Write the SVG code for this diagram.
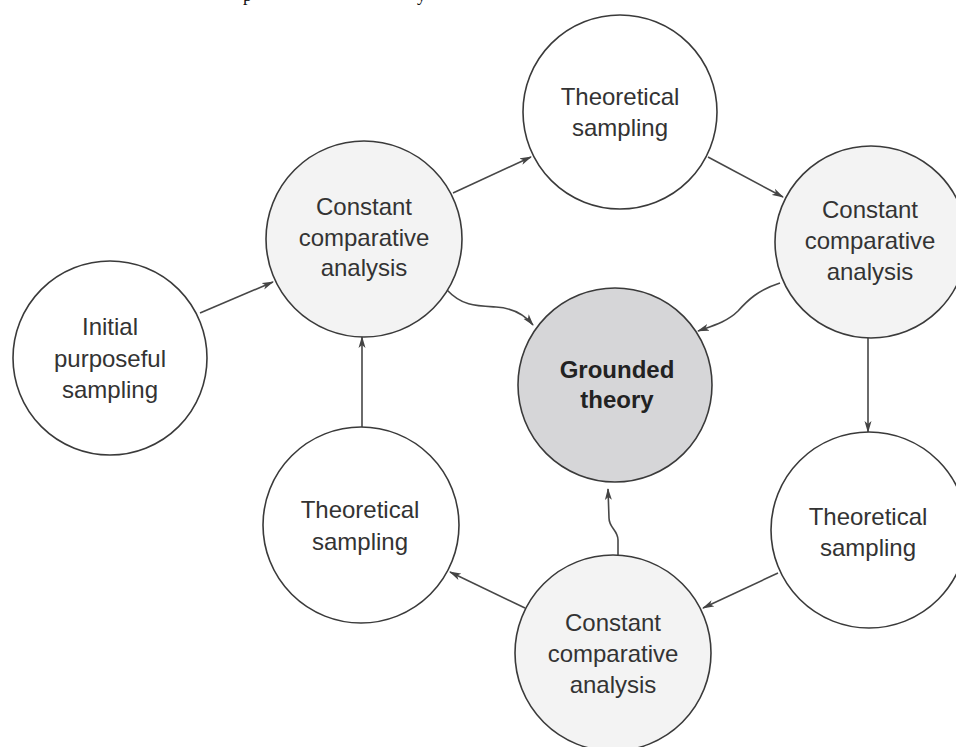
<svg xmlns="http://www.w3.org/2000/svg" width="956" height="747" viewBox="0 0 956 747">
  <defs>
    <marker id="arrow" viewBox="0 0 12 8" refX="11" refY="4" markerWidth="12" markerHeight="8" markerUnits="userSpaceOnUse" orient="auto">
      <path d="M0,0.5 L12,4 L0,7.5 L3,4 Z" fill="#444"/>
    </marker>
  </defs>
  <style>
    .node { stroke: #3a3a3a; stroke-width: 1.6; }
    .plain { fill: #ffffff; }
    .cca { fill: #f3f3f3; }
    .core { fill: #d6d6d8; }
    .label { font-family: "Liberation Sans", Arial, sans-serif; font-size: 24px; fill: #333; text-anchor: middle; }
    .bold { font-weight: bold; fill: #222; }
    .edge { fill: none; stroke: #474747; stroke-width: 1.6; marker-end: url(#arrow); }
    .runhead { font-family: "Liberation Serif", "Times New Roman", serif; font-size: 18px; fill: #111; }
  </style>

  <rect width="956" height="747" fill="#ffffff"/>

  <!-- descenders of the preceding text line, cut by the top edge -->
  <text class="runhead" x="243" y="0.5">p</text>
  <text class="runhead" x="417" y="0.5">y</text>

  <!-- connectors -->
  <g id="connectors">
    <path class="edge" d="M200,313 L273,282"/>
    <path class="edge" d="M453,193 L531,157"/>
    <path class="edge" d="M708,157 L783,197"/>
    <path class="edge" d="M868,338 L868,432"/>
    <path class="edge" d="M778,573 L703,608"/>
    <path class="edge" d="M525,608 L450,572"/>
    <path class="edge" d="M362,427 L362,337"/>
    <path class="edge" d="M447,290 C462,306 476,306 496,307 C512,308 524,314 533,325"/>
    <path class="edge" d="M780,283 C758,290 748,300 738,311 C727,322 712,326 698,331"/>
    <path class="edge" d="M618,555 L618,540 C618,530 609,528 609,518 L608,489"/>
  </g>

  <g id="initial-sampling">
    <circle class="node plain" cx="110" cy="358" r="97"/>
    <text class="label" x="110" y="335">Initial</text>
    <text class="label" x="110" y="367">purposeful</text>
    <text class="label" x="110" y="398">sampling</text>
  </g>

  <g id="cca-1">
    <circle class="node cca" cx="364" cy="239" r="98"/>
    <text class="label" x="364" y="215">Constant</text>
    <text class="label" x="364" y="246">comparative</text>
    <text class="label" x="364" y="276">analysis</text>
  </g>

  <g id="theoretical-1">
    <circle class="node plain" cx="620" cy="112" r="97"/>
    <text class="label" x="620" y="105">Theoretical</text>
    <text class="label" x="620" y="136">sampling</text>
  </g>

  <g id="cca-2">
    <circle class="node cca" cx="871" cy="242" r="96"/>
    <text class="label" x="870" y="218">Constant</text>
    <text class="label" x="870" y="249">comparative</text>
    <text class="label" x="870" y="280">analysis</text>
  </g>

  <g id="theoretical-2">
    <circle class="node plain" cx="869" cy="530" r="98"/>
    <text class="label" x="868" y="525">Theoretical</text>
    <text class="label" x="868" y="556">sampling</text>
  </g>

  <g id="cca-3">
    <circle class="node cca" cx="613" cy="653" r="98"/>
    <text class="label" x="613" y="631">Constant</text>
    <text class="label" x="613" y="662">comparative</text>
    <text class="label" x="613" y="693">analysis</text>
  </g>

  <g id="theoretical-3">
    <circle class="node plain" cx="361" cy="525" r="98"/>
    <text class="label" x="360" y="518">Theoretical</text>
    <text class="label" x="360" y="550">sampling</text>
  </g>

  <g id="grounded-theory">
    <circle class="node core" cx="615" cy="385" r="97"/>
    <text class="label bold" x="617" y="378">Grounded</text>
    <text class="label bold" x="617" y="408">theory</text>
  </g>
</svg>
